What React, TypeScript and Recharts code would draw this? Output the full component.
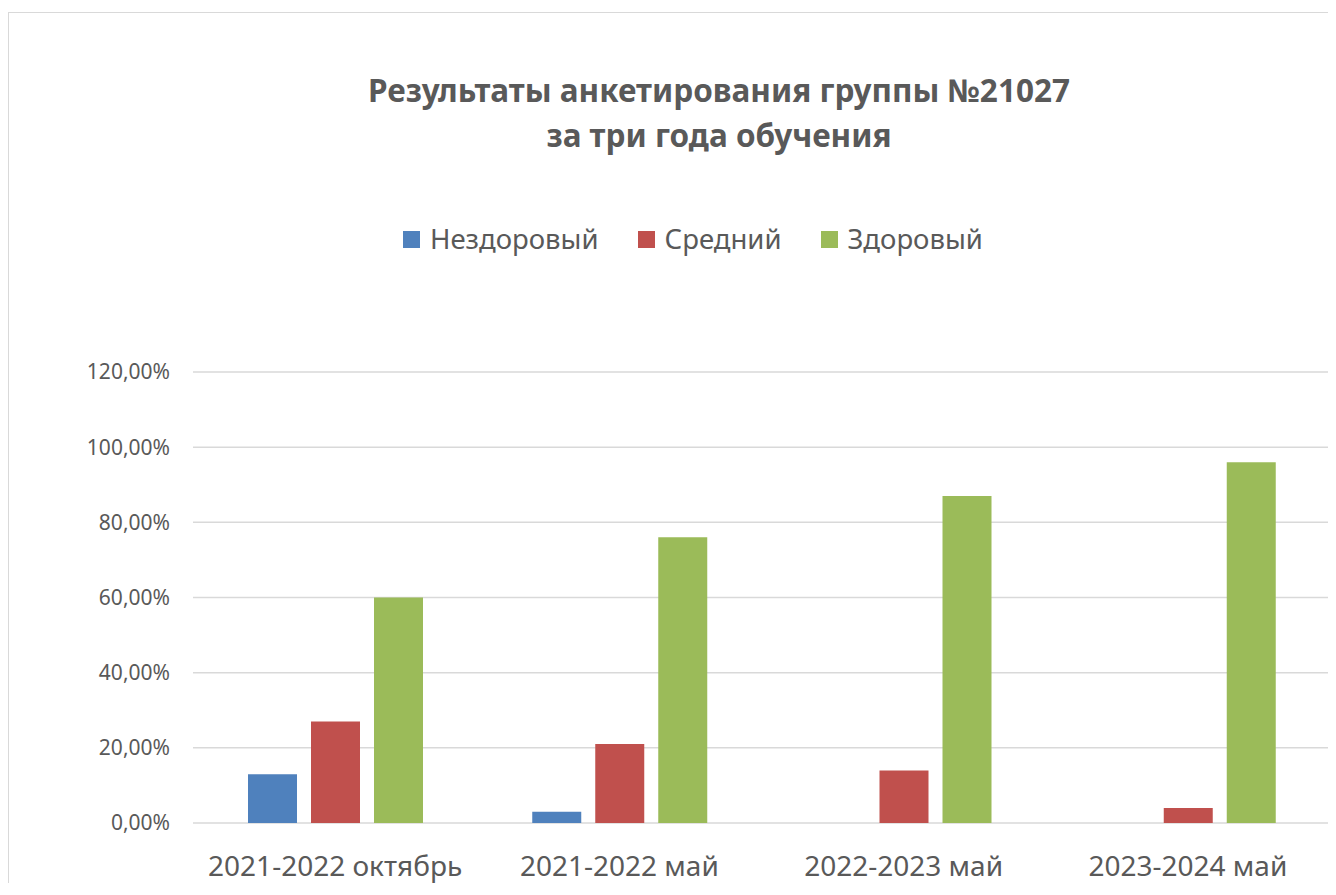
import { BarChart, Bar, XAxis, YAxis, CartesianGrid } from 'recharts';

const categories = ['2021-2022 октябрь', '2021-2022 май', '2022-2023 май', '2023-2024 май'];
const unhealthy = [13, 3, 0, 0];
const medium = [27, 21, 14, 4];
const healthy = [60, 76, 87, 96];
const yTicks = [0, 20, 40, 60, 80, 100, 120];

const series = [
  { key: 'unhealthy', name: 'Нездоровый', color: '#4f81bd' },
  { key: 'medium', name: 'Средний', color: '#c0504d' },
  { key: 'healthy', name: 'Здоровый', color: '#9bbb59' },
];

const data = categories.map((c, i) => ({
  category: c,
  unhealthy: unhealthy[i],
  medium: medium[i],
  healthy: healthy[i],
}));

const font = "'Noto Sans', sans-serif";
const textColor = '#595959';

const formatPct = (v: number) => v.toFixed(2).replace('.', ',') + '%';

const App = () => {
  return (
    <div style={{ position: 'relative', top: 4, width: 1328, height: 875, overflow: 'hidden' }}>
      <style>{`body { overflow: hidden; }`}</style>
      <div
        style={{
          position: 'absolute',
          left: 0,
          top: 0,
          width: 1420,
          height: 920,
          border: '1px solid #d9d9d9',
          background: '#fff',
          fontFamily: font,
          color: textColor,
        }}
      >
        <div
          style={{
            position: 'absolute',
            left: 0,
            top: 54,
            width: 1420,
            textAlign: 'center',
            fontWeight: 700,
            fontSize: 31.5,
            lineHeight: '45px',
          }}
        >
          <div>Результаты анкетирования группы №21027</div>
          <div>за три года обучения</div>
        </div>

        <div
          style={{
            position: 'absolute',
            left: 394,
            top: 208,
            display: 'flex',
            alignItems: 'center',
            fontSize: 27.5,
            lineHeight: '36px',
            whiteSpace: 'nowrap',
          }}
        >
          {series.map((s) => (
            <div key={s.key} style={{ display: 'flex', alignItems: 'center', marginRight: 39 }}>
              <span style={{ width: 17, height: 17, background: s.color, marginRight: 10, display: 'inline-block' }} />
              <span>{s.name}</span>
            </div>
          ))}
        </div>

        <BarChart
          width={1400}
          height={900}
          data={data}
          margin={{ top: 359, right: 79, left: 64, bottom: 30 }}
          barSize={49}
          barGap={14}
        >
          <CartesianGrid vertical={false} stroke="#d9d9d9" strokeWidth={1.5} />
          <XAxis
            dataKey="category"
            axisLine={false}
            tickLine={false}
            height={60}
            tickMargin={27}
            tick={{ fill: textColor, fontSize: 28, fontFamily: font }}
            interval={0}
          />
          <YAxis
            width={120}
            domain={[0, 120]}
            ticks={yTicks}
            axisLine={false}
            tickLine={false}
            tickMargin={17}
            tickFormatter={formatPct}
            tick={{ fill: textColor, fontSize: 21, fontFamily: font }}
          />
          {series.map((s) => (
            <Bar key={s.key} dataKey={s.key} name={s.name} fill={s.color} isAnimationActive={false} />
          ))}
        </BarChart>
      </div>
    </div>
  );
};

export default App;
